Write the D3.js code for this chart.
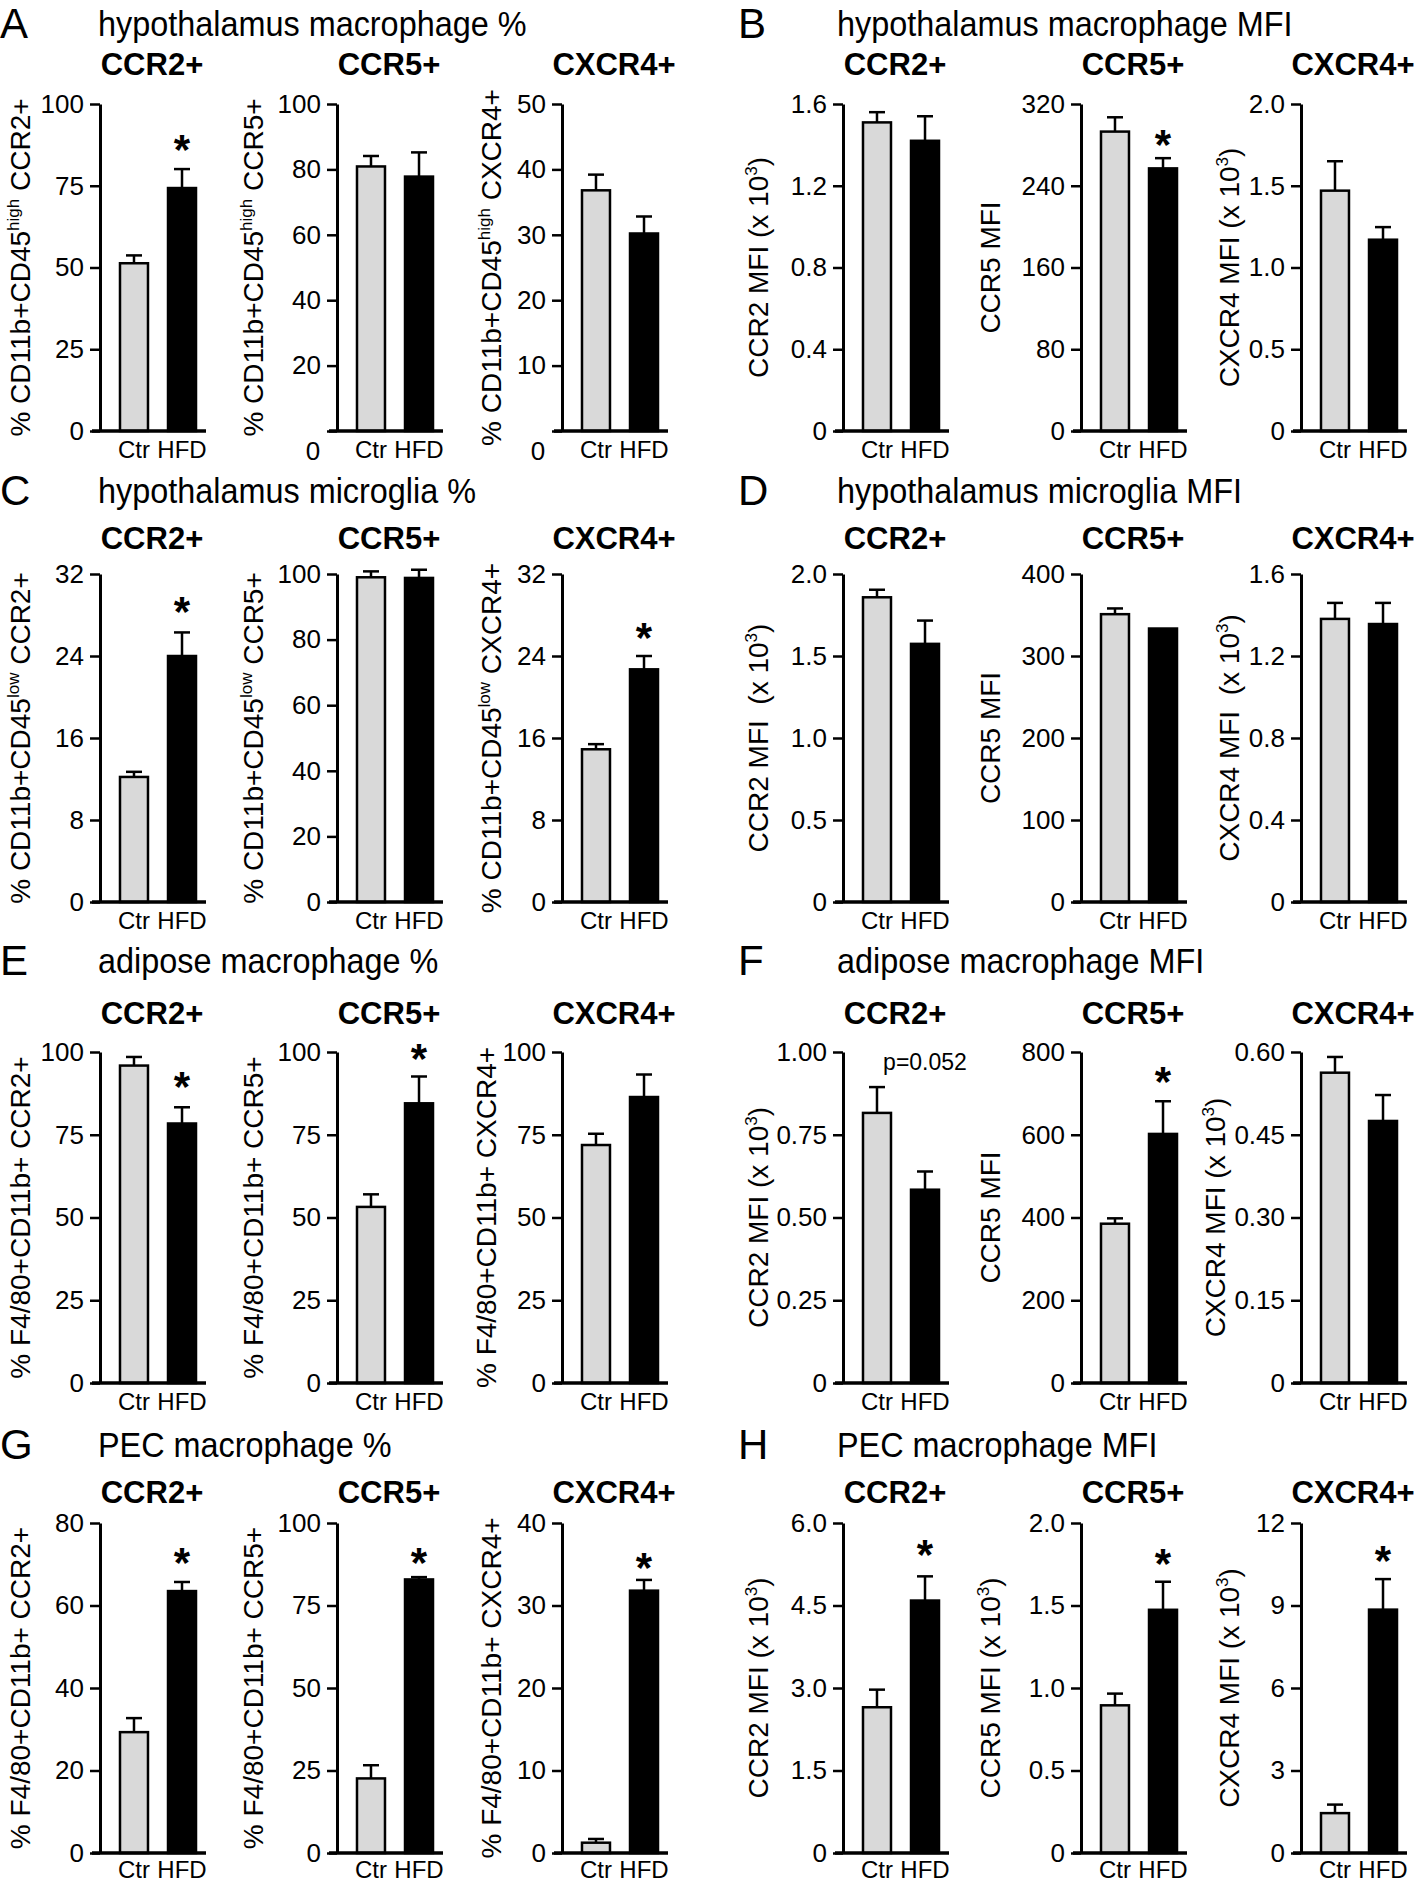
<!DOCTYPE html>
<html><head><meta charset="utf-8">
<script src="https://cdn.jsdelivr.net/npm/d3@7"></script>
<style>
body{margin:0;background:#fff}
text{font-family:"Liberation Sans",Arial,Helvetica,sans-serif;fill:#000;white-space:pre}
</style>
</head><body>
<svg id="fig" width="1420" height="1883"></svg>
<script>
// ---------------- DATA ----------------
const panelLetters = ["A","B","C","D","E","F","G","H"];
const panelTitles = [
  "hypothalamus macrophage %","hypothalamus macrophage MFI",
  "hypothalamus microglia %","hypothalamus microglia MFI",
  "adipose macrophage %","adipose macrophage MFI",
  "PEC macrophage %","PEC macrophage MFI"
];
const receptors = ["CCR2+","CCR5+","CXCR4+"];
const groups = ["Ctr","HFD"];

// 24 charts: A(0-2) B(3-5) C(6-8) D(9-11) E(12-14) F(15-17) G(18-20) H(21-23)
const ctrMean = [51.3, 80.9, 36.8,  1.51, 293, 1.47,  12.2, 99.0, 14.9,  1.858, 351, 1.381,
                 95.9, 53.2, 71.9,  0.816, 385, 0.5625,  29.3, 22.6, 1.25,  2.65, 0.895, 1.45];
const ctrErr  = [2.4, 3.2, 2.4,  0.05, 14, 0.18,  0.5, 1.8, 0.5,  0.046, 7, 0.078,
                 2.6, 3.8, 3.4,  0.078, 13, 0.0285,  3.4, 4.0, 0.45,  0.32, 0.071, 0.31];
const hfdMean = [74.3, 77.8, 30.2,  1.42, 257, 1.17,  24.0, 98.8, 22.7,  1.574, 333.5, 1.356,
                 78.4, 84.5, 86.4,  0.584, 602, 0.475,  63.5, 82.9, 31.8,  4.59, 1.474, 8.85];
const hfdErr  = [5.8, 7.4, 2.6,  0.12, 10, 0.077,  2.3, 2.5, 1.3,  0.142, 0, 0.103,
                 4.9, 8.1, 6.8,  0.055, 79, 0.047,  2.2, 0.7, 1.3,  0.44, 0.17, 1.11];

const yTickLabels = [
  ["0","25","50","75","100"], ["0","20","40","60","80","100"], ["0","10","20","30","40","50"],
  ["0","0.4","0.8","1.2","1.6"], ["0","80","160","240","320"], ["0","0.5","1.0","1.5","2.0"],
  ["0","8","16","24","32"], ["0","20","40","60","80","100"], ["0","8","16","24","32"],
  ["0","0.5","1.0","1.5","2.0"], ["0","100","200","300","400"], ["0","0.4","0.8","1.2","1.6"],
  ["0","25","50","75","100"], ["0","25","50","75","100"], ["0","25","50","75","100"],
  ["0","0.25","0.50","0.75","1.00"], ["0","200","400","600","800"], ["0","0.15","0.30","0.45","0.60"],
  ["0","20","40","60","80"], ["0","25","50","75","100"], ["0","10","20","30","40"],
  ["0","1.5","3.0","4.5","6.0"], ["0","0.5","1.0","1.5","2.0"], ["0","3","6","9","12"]
];
const zeroBelow = [false,true,true, false,false,false, false,false,false, false,false,false,
                   false,false,false, false,false,false, false,false,false, false,false,false];

const yLabelParts = [
  ["% CD11b+CD45","high"," CCR2+"], ["% CD11b+CD45","high"," CCR5+"], ["% CD11b+CD45","high"," CXCR4+"],
  ["CCR2 MFI (x 10","3",")"], ["CCR5 MFI","",""], ["CXCR4 MFI (x 10","3",")"],
  ["% CD11b+CD45","low"," CCR2+"], ["% CD11b+CD45","low"," CCR5+"], ["% CD11b+CD45","low"," CXCR4+"],
  ["CCR2 MFI  (x 10","3",")"], ["CCR5 MFI","",""], ["CXCR4 MFI  (x 10","3",")"],
  ["% F4/80+CD11b+ CCR2+","",""], ["% F4/80+CD11b+ CCR5+","",""], ["% F4/80+CD11b+ CXCR4+","",""],
  ["CCR2 MFI (x 10","3",")"], ["CCR5 MFI","",""], ["CXCR4 MFI (x 10","3",")"],
  ["% F4/80+CD11b+ CCR2+","",""], ["% F4/80+CD11b+ CCR5+","",""], ["% F4/80+CD11b+ CXCR4+","",""],
  ["CCR2 MFI (x 10","3",")"], ["CCR5 MFI (x 10","3",")"], ["CXCR4 MFI (x 10","3",")"]
];

// significance star (centre, in data units), null = none
const starAt = [89, null, null,  null, 290, null,  29.3, null, 26.7,  null, null, null,
                92.4, 101, null,  null, 752, null,  72.8, 91, 35.8,  5.6, 1.81, 10.97];
const noteChart = 15, noteText = "p=0.052", noteAt = 0.97;

// ---------------- LAYOUT ----------------
const colAxisX = [[100,337,562],[843,1081,1301]];
const colLabelX = [[20,253,491],[758,990,1229]];
const labelShift = {14:-5, 17:-14};
const rowTop = [104,574,1052,1523], rowBottom = [431,902,1383,1853];
const rowTitleY = [36,503,973,1457], rowSubY = [75,549,1024,1503];
const xLabelPad = [10,10,10,8];
const letterX = [0,738], titleX = [98,837];

const svg = d3.select("#fig");
svg.append("rect").attr("width",1420).attr("height",1883).attr("fill","#fff");

function drawChart(i, r, h, c){
  const ax = colAxisX[h][c], top = rowTop[r], bot = rowBottom[r];
  const tickVals = yTickLabels[i].map(Number);
  const ymax = tickVals[tickVals.length-1];
  const y = d3.scaleLinear().domain([0,ymax]).range([bot,top]);
  const x = d3.scaleBand().domain(groups).range([ax-2, ax+118]).paddingInner(0.417).paddingOuter(0.458);
  const bw = x.bandwidth();
  const g = svg.append("g");

  g.append("text").attr("x",ax+52).attr("y",rowSubY[r]).attr("text-anchor","middle")
    .attr("font-size",31).attr("font-weight","bold").text(receptors[c]);

  const vals = [{g:"Ctr",m:ctrMean[i],e:ctrErr[i]},{g:"HFD",m:hfdMean[i],e:hfdErr[i]}];

  // error bars
  const eb = vals.filter(d=>d.e>0);
  g.selectAll("line.err").data(eb).join("line").attr("class","err")
    .attr("x1",d=>x(d.g)+bw/2).attr("x2",d=>x(d.g)+bw/2)
    .attr("y1",d=>y(d.m)).attr("y2",d=>y(d.m+d.e))
    .attr("stroke","#000").attr("stroke-width",2.5);
  g.selectAll("line.cap").data(eb).join("line").attr("class","cap")
    .attr("x1",d=>x(d.g)+bw/2-8).attr("x2",d=>x(d.g)+bw/2+8)
    .attr("y1",d=>y(d.m+d.e)).attr("y2",d=>y(d.m+d.e))
    .attr("stroke","#000").attr("stroke-width",2.5);

  // bars
  g.selectAll("rect.bar").data(vals).join("rect").attr("class","bar")
    .attr("x",d=>x(d.g)).attr("width",bw)
    .attr("y",d=>y(d.m)).attr("height",d=>bot-y(d.m))
    .attr("fill",d=>d.g==="Ctr"?"#d9d9d9":"#000")
    .attr("stroke","#000").attr("stroke-width",2.5);

  // y axis
  const ya = g.append("g").attr("transform",`translate(${ax},0)`)
    .call(d3.axisLeft(y).tickValues(tickVals).tickFormat((d,k)=>yTickLabels[i][k])
      .tickSize(10).tickSizeOuter(0).tickPadding(6));
  ya.attr("font-size",26).attr("font-family",null);
  ya.select(".domain").attr("stroke-width",3);
  ya.selectAll(".tick line").attr("stroke-width",2.5);
  if(zeroBelow[i]){
    ya.selectAll(".tick").filter(d=>d===0).select("text").remove();
    g.append("text").attr("x",ax-24).attr("y",bot+29).attr("text-anchor","middle")
      .attr("font-size",26).text(yTickLabels[i][0]);
  }

  // x axis
  g.append("line").attr("x1",ax-8).attr("x2",ax+106).attr("y1",bot).attr("y2",bot)
    .attr("stroke","#000").attr("stroke-width",3.5);
  const xa = g.append("g").attr("transform",`translate(0,${bot})`)
    .call(d3.axisBottom(x).tickSize(0).tickPadding(xLabelPad[r]));
  xa.select(".domain").remove();
  xa.attr("font-size",24).attr("font-family",null);

  // y label
  const lp = yLabelParts[i];
  const lx = colLabelX[h][c] + (labelShift[i] || 0);
  const t = g.append("text")
    .attr("transform",`translate(${lx},${(top+bot)/2}) rotate(-90)`)
    .attr("text-anchor","middle").attr("dy","0.36em").attr("font-size",28);
  t.append("tspan").text(lp[0]);
  if(lp[1]){
    t.append("tspan").attr("font-size",17).attr("dy",-11).text(lp[1]);
    t.append("tspan").attr("dy",11).text(lp[2]);
  }

  // star / note
  if(starAt[i]!==null){
    g.append("text").attr("x",x("HFD")+bw/2).attr("y",y(starAt[i])+24)
      .attr("text-anchor","middle").attr("font-size",42).attr("font-weight","bold").text("*");
  }
  if(i===noteChart){
    g.append("text").attr("x",x("HFD")+bw/2).attr("y",y(noteAt)+8)
      .attr("text-anchor","middle").attr("font-size",23).text(noteText);
  }
}

panelLetters.forEach((L,p)=>{
  const r = Math.floor(p/2), h = p%2;
  svg.append("text").attr("x",letterX[h]).attr("y",rowTitleY[r]+2).attr("font-size",42).text(L);
  svg.append("text").attr("transform",`translate(${titleX[h]},${rowTitleY[r]}) scale(0.9,1)`)
    .attr("font-size",36).text(panelTitles[p]);
  for(let c=0;c<3;c++) drawChart(p*3+c, r, h, c);
});
</script>
</body></html>
